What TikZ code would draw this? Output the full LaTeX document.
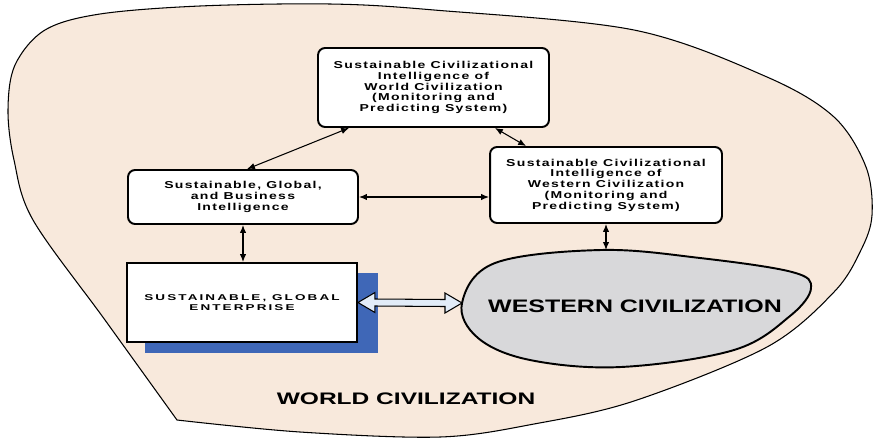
\documentclass[tikz,border=0pt]{standalone}
\usepackage{fontspec}
\setmainfont{Liberation Sans}
\newfontfamily\smallboxfont{Liberation Sans}[FakeStretch=1.4,LetterSpace=13]
\newfontfamily\capboxfont{Liberation Sans}[FakeStretch=1.6,LetterSpace=25]
\newfontfamily\bigwidefont{Liberation Sans}[FakeStretch=1.38]
\newfontfamily\worldfont{Liberation Sans}[FakeStretch=1.47]
\usetikzlibrary{arrows.meta,calc}

\definecolor{peach}{RGB}{248,233,220}
\definecolor{blobgray}{RGB}{216,216,218}
\definecolor{shadowblue}{RGB}{63,103,183}
\definecolor{paleblue}{RGB}{226,236,248}

\tikzset{
  roundbox/.style={draw=black, line width=1.1pt, fill=white, rounded corners=4pt,
    align=center, inner sep=0pt,
    font=\smallboxfont\bfseries\fontsize{5.7}{6.1}\selectfont},
  squarebox/.style={draw=black, line width=1.1pt, fill=white,
    align=center, inner sep=0pt,
    font=\capboxfont\bfseries\fontsize{4.8}{5.7}\selectfont},
  link/.style={line width=0.6pt, {Latex[length=4.5pt,width=3.6pt]}-{Latex[length=4.5pt,width=3.6pt]}},
  hollow/.style={draw=black, line width=0.6pt, fill=paleblue, line join=miter}
}

\begin{document}
\begin{tikzpicture}[x=0.02cm, y=-0.02cm]
  \useasboundingbox (0,0) rectangle (874,443);

  % outer region: world civilization
  \draw[fill=peach, line width=0.6pt]
    plot[smooth, tension=0.55] coordinates {
      (177,420) (105,320) (33,220) (14,160) (8,110) (15,65) (45,30) (100,14)
      (200,6) (330,4) (434,10) (634,30) (767,77) (834,117) (866,167)
      (872,215) (861,250) (834,292) (767,347) (634,401) (534,424)
      (440,437) (300,432) (177,420)} -- cycle;

  % inner region: western civilization
  \draw[fill=blobgray, line width=1.1pt]
    plot[smooth cycle, tension=0.6] coordinates {
      (462,303) (495,263) (601,250) (700,258) (792,272) (811,288)
      (790,316) (734,350) (621,367) (530,360) (478,338)};
  \coordinate (wtop) at (601,250);
  \coordinate (wleft) at (462,303);
  \node[font=\bigwidefont\bfseries\fontsize{10.3}{12}\selectfont, inner sep=0pt]
    (wc) at (635,306) {WESTERN CIVILIZATION};

  % boxes
  \node[roundbox, minimum width=4.62cm, minimum height=1.58cm] (world) at (433.5,87.5)
    {Sustainable Civilizational\\Intelligence of\\World Civilization\\(Monitoring and\\Predicting System)};
  \node[roundbox, minimum width=4.6cm, minimum height=1.08cm] (biz) at (243,197)
    {Sustainable, Global,\\and Business\\Intelligence};
  \node[roundbox, minimum width=4.64cm, minimum height=1.52cm] (west) at (606,185)
    {Sustainable Civilizational\\Intelligence of\\Western Civilization\\(Monitoring and\\Predicting System)};

  \coordinate (entpos) at (242,302.5);
  \fill[shadowblue] ($(entpos)+(-97,-29.5)$) rectangle ($(entpos)+(136,50.5)$);
  \node[squarebox, minimum width=4.6cm, minimum height=1.58cm] (ent) at (entpos)
    {SUSTAINABLE, GLOBAL\\ENTERPRISE};

  % connectors
  \draw[link] ($(biz.north)+(4,0)$) -- ($(world.south west)+(32,0)$);
  \draw[link] ($(world.south east)+(-55,0)$) -- ($(west.north west)+(37,0)$);
  \draw[link] (biz.east) -- (biz.east -| west.west);
  \draw[link] (biz.south) -- (biz.south |- ent.north);
  \draw[link] (west.south) -- (west.south |- wtop);

  % hollow two-way block arrow
  \draw[hollow] (ent.east) -- ++(17,-10) -- ++(0,6.5)
    -- ($(wleft)+(-17,-3.5)$) -- ++(0,-6.5) -- (wleft)
    -- ++(-17,10) -- ++(0,-6.5)
    -- ($(ent.east)+(17,3.5)$) -- ++(0,6.5) -- cycle;

  \node[font=\worldfont\bfseries\fontsize{9.5}{11}\selectfont, inner sep=0pt]
    (worldlabel) at (406,399) {WORLD CIVILIZATION};
\end{tikzpicture}
\end{document}
